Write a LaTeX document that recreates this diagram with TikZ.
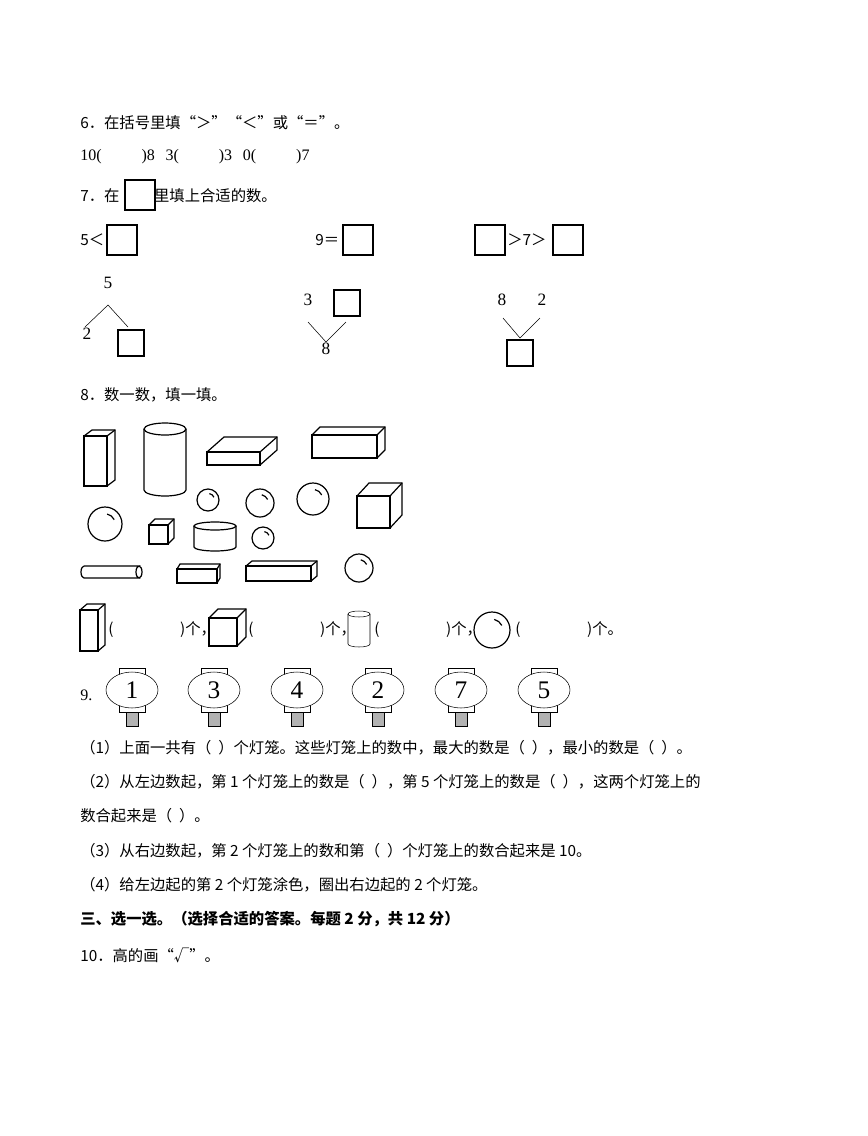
\documentclass[tikz,border=0pt]{standalone}
\usepackage{fontspec}
\setmainfont{Liberation Serif}
\newfontfamily\cjk{Noto Sans CJK SC}
\usetikzlibrary{positioning,shapes.geometric}
\tikzset{
	txt/.style={anchor=west,inner sep=0pt,font=\cjk\fontsize{11.5}{14}\selectfont},
	num/.style={inner sep=0pt,font=\fontsize{13}{15}\selectfont},
	ansbox/.style={draw,thick,minimum width=22.5pt,minimum height=22.5pt,inner sep=0pt},
	solid3d/.style={line width=0.9pt},
}
% cuboid: front top-left x, y, width, height, depth dx, dy
\newcommand{\cuboid}[6]{
	\draw[solid3d] (#1,#2) rectangle ++(#3,#4);
	\draw[solid3d] (#1,#2) -- ++(#5,#6) -- ++(#3,0) -- ++(0,#4) -- ++(-#5,-#6);
	\draw[solid3d] (#1+#3,#2) -- ++(#5,#6);
}
% upright cylinder: cx, top, bottom, rx, ry
\newcommand{\cylup}[5]{
	\draw[solid3d] (#1,#2) ellipse[x radius=#4,y radius=#5];
	\draw[solid3d] (#1-#4,#2) -- (#1-#4,#3) arc[start angle=180,end angle=0,x radius=#4,y radius=#5] -- (#1+#4,#2);
}
% ball: cx, cy, r
\newcommand{\ball}[3]{
	\draw[solid3d] (#1,#2) circle[radius=#3];
	\pgfmathsetmacro\hr{0.6*#3}
	\draw[solid3d] (#1,#2) ++(282:\hr) arc[start angle=282,end angle=335,radius=\hr];
}
\begin{document}
\begin{tikzpicture}[x=0.75pt,y=-0.75pt]
	\useasboundingbox (0,0) rectangle (868,1136);
	
	\node[txt] (q6) at (80,123) {6．在括号里填“＞”“＜”或“＝”。};
	\node[txt,font=\fontsize{12}{14}\selectfont] (q6a) at (80,157) {10(\hspace{30pt})8\hspace{8pt}3(\hspace{30pt})3\hspace{8pt}0(\hspace{30pt})7};
	
	\node[txt] (q7) at (80,196) {7．在\hspace{26pt}里填上合适的数。};
	\node[ansbox] (b0) at (140,195) {};
	\node[txt] (lt) at (80,240) {5＜};
	\node[ansbox] (b1) at (122,240) {};
	\node[txt] (eq) at (315,240) {9＝};
	\node[ansbox] (b2) at (358,240) {};
	\node[ansbox] (b3) at (490,240) {};
	\node[txt] (gt) at (507,240) {＞7＞};
	\node[ansbox] (b4) at (568,240) {};
	
	% number bonds
	\node[num] (n5) at (108,283) {5};
	\coordinate (t1) at (108,305);
	\node[num] (n2) at (87,334) {2};
	\node[ansbox,minimum width=19.5pt,minimum height=19.5pt] (b5) at (131,343) {};
	\draw (85,327) -- (t1) -- (128,327);
	
	\node[num] (n3) at (308,300) {3};
	\node[ansbox,minimum width=19.5pt,minimum height=19.5pt] (b6) at (347,303) {};
	\coordinate (t2) at (326,342);
	\draw (308,322) -- (t2) -- (346,322);
	\node[num] (n8) at (326,349) {8};
	
	\node[num] (m8) at (502,300) {8};
	\node[num] (m2) at (542,300) {2};
	\coordinate (t3) at (520,338);
	\draw (503,318) -- (t3) -- (540,318);
	\node[ansbox,minimum width=19.5pt,minimum height=19.5pt] (b7) at (520,353) {};
	
	\node[txt] (q8) at (80,395) {8．数一数，填一填。};
	
	% solids
	\cuboid{84}{436}{23}{50}{8}{-6}
	\cylup{165}{429}{490}{21}{6}
	\cuboid{207}{452}{53}{13}{17}{-15}
	\cuboid{312}{435}{65}{23}{8}{-8}
	\ball{208}{500}{11}
	\ball{260}{503}{14}
	\ball{313}{499}{16}
	\cuboid{357}{496}{33}{32}{12}{-13}
	\ball{105}{524}{17}
	\cuboid{149}{525}{19}{19}{6}{-6}
	\cylup{215}{526}{547}{21}{4}
	\ball{263}{538}{11}
	\draw[solid3d] (84,566) -- (139,566) arc[start angle=270,end angle=90,x radius=3,y radius=6] -- (84,578) arc[start angle=90,end angle=270,x radius=3,y radius=6];
	\draw[solid3d] (139,566) arc[start angle=-90,end angle=90,x radius=3,y radius=6];
	\cuboid{177}{569}{40}{14}{3}{-5}
	\cuboid{246}{566}{65}{15}{6}{-5}
	\ball{359}{568}{14}
	
	% count row
	\cuboid{80}{610}{18}{41}{7}{-6}
	\node[txt] (c1) at (108,630) {(\hspace{50pt})个，};
	\cuboid{209}{618}{28}{28}{9}{-9}
	\node[txt] (c2) at (248,630) {(\hspace{50pt})个，};
	\draw[thin] (359,614) ellipse[x radius=11,y radius=3];
	\draw[thin] (348,614) -- (348,644) arc[start angle=180,end angle=0,x radius=11,y radius=3] -- (370,614);
	\node[txt] (c3) at (374,630) {(\hspace{50pt})个，};
	\ball{492}{630}{18}
	\node[txt] (c4) at (515,630) {(\hspace{50pt})个。};
	
	% lanterns
	\node[txt,font=\fontsize{12}{14}\selectfont] (q9) at (80,695) {9.};
	\foreach \x/\n in {132/1, 214/3, 297/4, 378/2, 461/7, 544/5}{
		\draw (\x-13,668) rectangle (\x+13,675);
		\draw (\x-13,705) rectangle (\x+13,712);
		\draw[fill=gray!60] (\x-6,712) rectangle (\x+6,726);
		\node[draw,fill=white,ellipse,minimum width=39pt,minimum height=27pt,inner sep=0pt,font=\fontsize{19}{20}\selectfont] (lan\n) at (\x,690) {\n};
	}
	
	\node[txt] (l1) at (80,748) {（1）上面一共有（\ \ ）个灯笼。这些灯笼上的数中，最大的数是（\ \ ），最小的数是（\ \ ）。};
	\node[txt] (l2) at (80,782) {（2）从左边数起，第 1 个灯笼上的数是（\ \ ），第 5 个灯笼上的数是（\ \ ），这两个灯笼上的};
	\node[txt] (l2b) at (80,816) {数合起来是（\ \ ）。};
	\node[txt] (l3) at (80,851) {（3）从右边数起，第 2 个灯笼上的数和第（\ \ ）个灯笼上的数合起来是 10。};
	\node[txt] (l4) at (80,885) {（4）给左边起的第 2 个灯笼涂色，圈出右边起的 2 个灯笼。};
	\node[txt,font=\cjk\bfseries\fontsize{11.5}{14}\selectfont] (s3) at (80,919) {三、选一选。（选择合适的答案。每题 2 分，共 12 分）};
	\node[txt] (q10) at (80,955) {10．高的画“√”。};
\end{tikzpicture}
\end{document}
